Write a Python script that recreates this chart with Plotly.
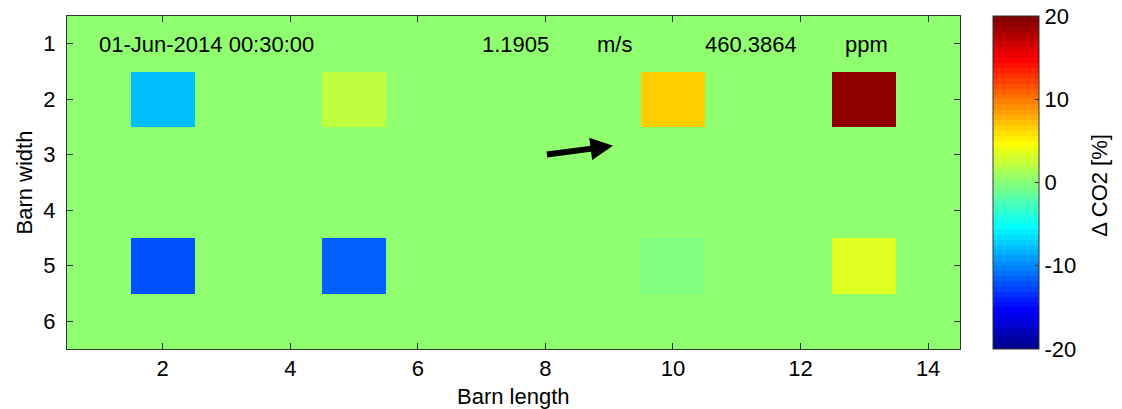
import numpy as np
import plotly.graph_objects as go

# ---- data ----
barn_length = list(range(1, 15))          # x categories 1..14
barn_width = list(range(1, 7))            # y categories 1..6
sensor_x = [2, 5, 10, 13, 2, 5, 10, 13]
sensor_y = [2, 2, 2, 2, 5, 5, 5, 5]
delta_co2 = [-7.8, 2.2, 6.5, 19.0, -12.2, -11.5, -0.3, 3.4]
background_value = 0.0

x_ticks = [2, 4, 6, 8, 10, 12, 14]
y_ticks = [1, 2, 3, 4, 5, 6]
cb_ticks = [-20, -10, 0, 10, 20]
cb_ticktext = ["-20", "-10", "0", "10", "20"]

timestamp_text = "01-Jun-2014 00:30:00"
wind_speed_text = "1.1905"
wind_unit = "m/s"
co2_text = "460.3864"
co2_unit = "ppm"
label_x = [0.97, 6.97, 8.78, 10.47, 12.67]
label_texts = [timestamp_text, wind_speed_text, wind_unit, co2_text, co2_unit]

wind_origin = (8.0, 3.0)
wind_vector = (1.06, -0.16)

# ---- MATLAB jet(64) ----
def matlab_jet(m=64):
    n = int(np.ceil(m / 4))
    u = np.concatenate([np.arange(1, n + 1) / n, np.ones(n - 1), np.arange(n, 0, -1) / n])
    g = int(np.ceil(n / 2)) - (1 if m % 4 == 1 else 0) + np.arange(1, len(u) + 1)
    r = g + n
    b = g - n
    J = np.zeros((m, 3))
    for idx_arr, col in ((r, 0), (g, 1), (b, 2)):
        for k, row in enumerate(idx_arr):
            if 1 <= row <= m:
                J[row - 1, col] = u[k]
    return J

J = matlab_jet(64)
colorscale = []
for i, c in enumerate(J):
    col = "rgb(%d,%d,%d)" % tuple(int(round(v * 255)) for v in c)
    colorscale.append([i / 64, col])
    colorscale.append([(i + 1) / 64, col])

z = np.full((len(barn_width), len(barn_length)), background_value)
for xx, yy, vv in zip(sensor_x, sensor_y, delta_co2):
    z[barn_width.index(yy), barn_length.index(xx)] = vv

font_family = "Liberation Sans, Arial, sans-serif"
FS = 22
font = dict(family=font_family, size=FS, color="black")

fig = go.Figure()
fig.add_trace(go.Heatmap(
    x=barn_length, y=barn_width, z=z,
    zmin=-20, zmax=20, colorscale=colorscale,
    hoverinfo="skip",
    colorbar=dict(
        x=1.037, xanchor="left", xref="paper", xpad=0,
        y=0.5, yanchor="middle", len=1.0, lenmode="fraction", ypad=0,
        thickness=46, thicknessmode="pixels",
        outlinecolor="#333333", outlinewidth=1,
        tickvals=cb_ticks, ticktext=cb_ticktext,
        ticks="inside", ticklen=4, tickcolor="#333333",
        tickfont=font, ticklabeloverflow="allow",
    ),
))

# text annotations
for tx, tt in zip(label_x, label_texts):
    fig.add_annotation(x=tx, y=1, text=tt, showarrow=False, xanchor="left",
                       yanchor="middle", xref="x", yref="y", yshift=-1,
                       font=font)

# wind arrow
fig.add_annotation(
    x=wind_origin[0] + wind_vector[0], y=wind_origin[1] + wind_vector[1],
    ax=wind_origin[0], ay=wind_origin[1], axref="x", ayref="y",
    xref="x", yref="y", text="", showarrow=True,
    arrowhead=2, arrowsize=0.75, arrowwidth=6, arrowcolor="black",
)

# axis titles
fig.add_annotation(x=0.5, y=0, xref="paper", yref="paper", text="Barn length",
                   showarrow=False, xanchor="center", yanchor="top", yshift=-33,
                   font=font)
fig.add_annotation(x=0, y=0.5, xref="paper", yref="paper", text="Barn width",
                   showarrow=False, xanchor="center", yanchor="middle", xshift=-43,
                   textangle=-90, font=font)
fig.add_annotation(x=(1100 - 67) / 893, y=0.49, xref="paper", yref="paper",
                   text="Δ CO2 [%]", showarrow=False, xanchor="center",
                   yanchor="middle", textangle=-90, font=font)

axis_common = dict(
    showline=True, linecolor="#333333", linewidth=1, mirror="ticks",
    ticks="inside", ticklen=6, tickcolor="#333333", showgrid=False, zeroline=False,
    tickfont=font, automargin=False,
)
fig.update_xaxes(range=[0.5, 14.5], tickvals=x_ticks, ticklabelstandoff=0, **axis_common)
fig.update_yaxes(range=[6.5, 0.5], tickvals=y_ticks, ticklabelstandoff=6, **axis_common)

# page body has an 8 px default margin, so the figure is 8 px smaller
fig.update_layout(
    width=1114, height=401,
    margin=dict(l=59, r=162, t=8, b=60, autoexpand=False),
    paper_bgcolor="white", plot_bgcolor="white",
    showlegend=False,
)

fig.write_html("out.html")
